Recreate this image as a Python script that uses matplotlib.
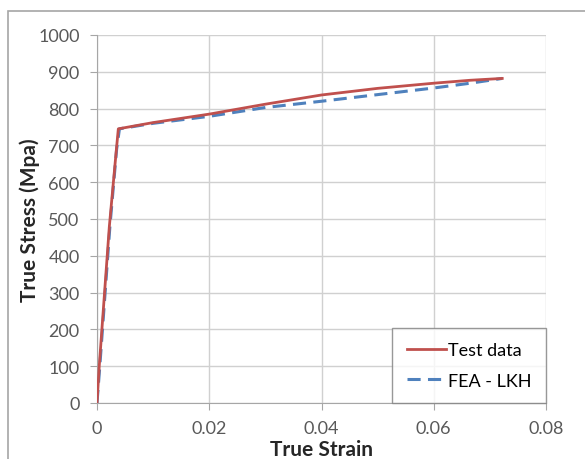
import matplotlib.pyplot as plt
from matplotlib.patches import Rectangle

# test curve (strain, stress in MPa)
test_strain = [0, 0.0004, 0.0022, 0.0034, 0.0038, 0.01, 0.02, 0.03, 0.04, 0.05, 0.06, 0.0665, 0.0722]
test_stress = [0, 100, 480, 680, 745, 762, 785, 812, 837, 855, 869, 877, 882]

# FEA - LKH curve
fea_strain = [0, 0.0005, 0.0023, 0.0035, 0.0040, 0.01, 0.02, 0.03, 0.04, 0.05, 0.06, 0.0665, 0.0722]
fea_stress = [0, 100, 480, 690, 745, 760, 779, 803, 820, 838, 856, 869, 882]

xticks = [0, 0.02, 0.04, 0.06, 0.08]
xlabels = ['0', '0.02', '0.04', '0.06', '0.08']
yticks = list(range(0, 1001, 100))

plt.rcParams['font.family'] = ['Lato', 'DejaVu Sans']

fig = plt.figure(figsize=(5.85, 4.6), dpi=100)
# outer chart border
fig.patches.append(Rectangle((8 / 585, -0.1), 1.0, 1.1 - 12 / 460, transform=fig.transFigure,
                             fill=False, edgecolor='#a6a6a6', lw=1.2))
ax = fig.add_axes([97 / 585, 56 / 460, 449 / 585, 368 / 460])

ax.plot(test_strain, test_stress, color='#c0504d', lw=2, label='Test data', zorder=3)
ax.plot(fea_strain, fea_stress, color='#4f81bd', lw=2.2, dashes=(4.3, 2.4), label='FEA - LKH', zorder=2)

ax.set_xlim(0, 0.08)
ax.set_ylim(0, 1000)
ax.set_xticks(xticks)
ax.set_xticklabels(xlabels)
ax.set_yticks(yticks)
ax.grid(True, color='#d0d0d0', lw=1)
ax.set_axisbelow(True)
for s in ['top', 'right']:
    ax.spines[s].set_visible(False)
for s in ['left', 'bottom']:
    ax.spines[s].set_color('#a6a6a6')
ax.tick_params(colors='#a6a6a6', labelcolor='#595959', labelsize=13, length=5)
ax.tick_params(axis='x', pad=7)
ax.tick_params(axis='y', pad=7.5)

ax.set_xlabel('True Strain', fontsize=15, fontweight='bold', color='#262626')
ax.set_ylabel('True Stress (Mpa)', fontsize=15, fontweight='bold', color='#262626')
ax.xaxis.set_label_coords(0.5, -0.097)
ax.yaxis.set_label_coords(-0.128, 0.5)

leg = ax.legend(loc='lower right', borderaxespad=0, fontsize=13, frameon=True,
                fancybox=False, edgecolor='#7f7f7f', handlelength=2.2, labelspacing=0.8,
                borderpad=0.8, handletextpad=0.1)
leg.get_frame().set_linewidth(1)

fig.savefig('out.png', dpi=100)
